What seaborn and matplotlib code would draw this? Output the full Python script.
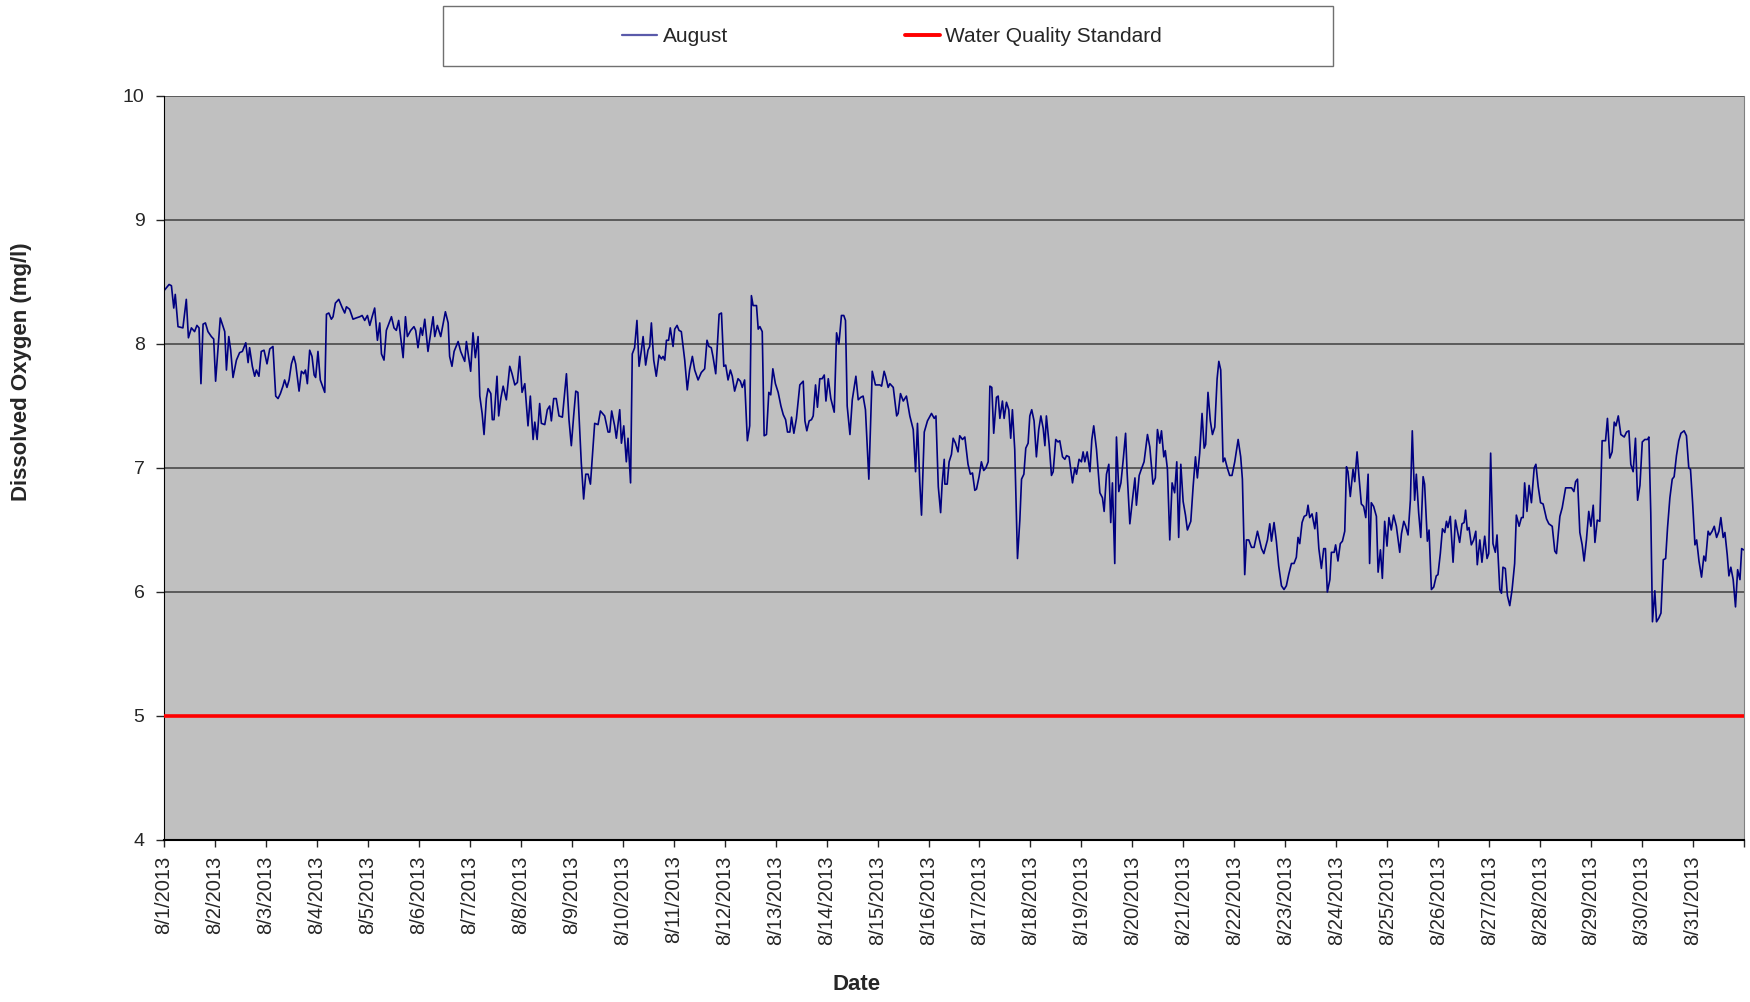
import matplotlib
matplotlib.use("Agg")
import matplotlib.pyplot as plt
from matplotlib.patches import Rectangle
from matplotlib.lines import Line2D
import seaborn as sns
import pandas as pd

# Dissolved oxygen readings, August 2013 (hours after 8/1/2013 00:00, mg/l)
hours = [
    0, 2.4, 3.5, 4.6, 5.3, 6.6, 8.9, 10.5, 11.5, 12.9, 14.4, 15.5, 16.5, 17.4, 18.4, 19.5,
    20.7, 22.3, 23.4, 24.3, 26.5, 28.6, 29.4, 30.5, 31.4, 32.5, 34.1, 35.6, 36.9, 38.5, 39.6,
    40.3, 41.6, 42.7, 43.5, 44.7, 45.8, 47.1, 48.5, 49.8, 51.3, 52.6, 53.7, 54.8, 56.0, 56.8,
    57.9, 58.9, 60.0, 61.1, 62.0, 63.6, 64.7, 65.8, 66.6, 67.5, 68.6, 69.7, 70.7, 71.4, 72.5,
    73.6, 75.7, 76.5, 77.6, 78.8, 79.6, 80.7, 82.3, 84.0, 85.1, 85.9, 87.4, 89.0, 90.5,
    92.2, 93.3, 94.5, 95.8, 96.9, 98.0, 99.2, 100.5, 101.6, 102.4, 103.6, 104.7, 107.1, 108.3,
    109.4, 110.5, 112.6, 113.7, 114.6, 116.2, 117.7, 118.5, 119.6, 120.9, 121.7, 122.8, 124.3,
    126.7, 127.5, 128.7, 130.3, 132.5, 133.8, 134.5, 135.6, 136.6, 138.5, 139.7, 141.6, 142.4,
    144.4, 145.5, 146.6, 147.9, 148.7, 149.8, 150.7, 151.8, 152.6, 153.9, 154.6, 155.4, 156.8,
    157.6, 158.6, 159.7, 161.2, 162.8, 163.9, 165.2, 166.4, 167.5, 168.6, 169.9, 171.4, 172.5,
    173.8, 174.6, 175.7, 176.9, 177.7, 179.3, 180.5, 181.6, 182.4, 183.5,
    184.7, 186.0, 187.6, 189.5, 190.7, 191.8, 192.9, 193.9, 194.9, 196.5, 197.6, 198.6, 199.7,
    200.8, 202.8, 204.4, 205.5, 207.5, 209.1, 209.9, 210.8, 212.2, 213.0, 214.6, 215.4, 216.5,
    217.7, 218.5, 219.7, 220.5, 221.6, 222.7, 223.7, 224.8, 225.6, 226.8, 227.9, 228.7, 229.5,
    230.6, 231.8, 233.1, 234.2, 235.0, 235.8, 236.6, 237.6, 238.4, 239.7, 240.5, 241.6, 242.5,
    243.6, 245.2, 246.4, 247.5, 248.8, 249.9, 251.5, 253.0, 254.6, 255.7, 256.6, 257.7, 258.5,
    259.8, 261.4, 262.5, 263.6, 264.5, 265.6, 266.7, 267.6, 268.7, 270.3, 271.4, 272.3, 273.4,
    274.7, 275.8,
    276.6, 277.4, 279.0, 279.8, 280.6, 281.7, 282.6, 283.7, 284.8, 285.7, 286.7, 287.9, 289.2,
    290.5, 291.6, 292.7, 293.6, 294.7, 295.5, 296.6, 297.8, 299.4, 301.0, 301.8, 302.7, 303.8,
    304.9, 305.7, 306.8, 307.7, 308.8, 309.9, 310.9, 311.7, 312.8, 314.0, 315.6, 316.7, 317.8,
    319.0, 320.1, 320.9, 321.7, 323.0, 324.1, 325.8, 326.9, 328.1, 329.2, 330.3, 331.9, 333.5,
    335.0, 337.1, 337.9, 339.1, 339.8, 341.0, 341.8, 343.4, 345.0, 345.7, 346.8, 348.1, 349.6,
    351.2, 352.8, 353.9, 354.8, 355.9, 356.7, 358.0, 359.5, 361.4, 362.7, 363.5, 364.6, 365.7,
    366.4, 367.4,
    367.7, 368.8, 369.7, 370.8, 371.6, 372.7, 373.9, 374.7, 376.0, 377.1, 378.6, 379.7, 380.7,
    381.8, 382.6, 383.8, 384.9, 386.0, 387.0, 388.1, 388.9, 389.8, 390.7, 392.0, 392.8, 393.6,
    394.8, 395.6, 396.7, 397.8, 398.7, 399.5, 400.6, 401.9, 403.0, 403.8, 404.9, 405.8, 406.9,
    407.7, 408.6, 409.7, 410.8, 411.9, 412.9, 414.0, 414.8, 415.5, 416.8, 417.9, 418.7, 419.9,
    421.0, 421.8, 423.1, 424.2, 425.0, 426.2, 427.8, 428.9, 429.7, 430.9, 432.0, 432.8, 433.6,
    434.7, 436.0, 436.9, 437.8, 439.1, 440.7, 441.9, 442.7, 443.8, 444.9, 445.8, 446.6, 447.7,
    448.5, 449.6, 450.6, 451.7, 452.8, 453.5, 454.8, 456.0, 457.2, 457.9, 459.2,
    460.2, 461.5, 463.1, 464.2, 465.7, 466.8, 467.8, 468.9, 469.7, 470.8, 471.5, 472.5, 473.6,
    474.7, 475.9, 476.9, 477.8, 478.8, 479.9, 481.0, 481.9, 483.5, 484.6, 485.7, 486.6, 487.7,
    488.8, 489.8, 490.5, 491.6, 492.7, 493.7, 494.8, 495.9, 496.7, 497.6, 498.7, 499.5, 500.7,
    501.8, 502.9, 504.2, 505.8, 507.0, 507.8, 508.9, 509.7, 510.8, 512.1, 513.3, 514.9, 516.0,
    516.8, 517.9, 519.6, 520.7, 521.5, 522.7, 523.8, 524.9, 526.2, 527.4, 528.5, 529.6, 530.9,
    532.1, 533.2, 534.0, 534.8, 535.9, 536.9, 538.0, 538.7, 539.5, 540.6, 541.9, 542.7, 543.8,
    545.0, 546.1, 546.9, 547.8, 549.0, 549.7, 551.0,
    551.7, 552.8, 553.9, 554.9, 556.0, 556.8, 557.5, 558.6, 559.9, 560.7, 561.8, 562.7, 563.8,
    564.9, 565.9, 567.0, 567.7, 568.5, 569.6, 570.9, 571.7, 572.8, 573.7, 574.8, 575.9, 576.8,
    577.9, 579.0, 580.3, 581.9, 582.7, 583.8, 584.7, 585.8, 586.9, 587.8, 588.9, 589.7, 590.8,
    591.8, 592.9, 593.6, 594.9, 595.7, 596.8, 597.9, 599.1, 599.9, 601.0, 602.0, 603.1, 603.9,
    604.6, 605.7, 607.0, 608.1, 609.0, 610.1, 611.2, 612.2, 612.9, 613.7, 614.5, 615.6, 616.7,
    617.7, 618.4, 619.6, 620.6, 621.9, 623.0, 623.8, 624.7, 625.8, 626.9, 627.7, 629.0, 629.8,
    630.5, 631.6, 632.6, 633.7, 634.8, 636.0, 636.8, 638.1, 639.2, 640.0, 640.7, 641.8, 642.8,
    643.9, 645.2, 646.0, 647.1, 648.2, 649.4, 651.0, 652.1, 653.7, 654.9, 655.7, 657.3, 658.4,
    660.0, 661.2, 662.8, 663.9, 664.7, 665.6, 666.7, 667.8, 668.7, 669.8, 670.9, 671.9, 673.0,
    673.8, 674.9, 676.1, 677.2, 678.8, 679.7, 680.8, 681.9, 682.9, 683.7, 684.8, 686.0, 687.6,
    688.7, 689.8, 690.7, 691.8, 692.9, 693.9, 695.0, 696.1, 697.3, 698.6, 699.2, 700.1, 700.9,
    702.0, 702.8, 703.9, 704.9, 706.0, 707.1, 708.0, 709.1, 710.2, 711.1, 712.2, 713.3, 714.3,
    715.8, 716.9, 718.0, 718.8, 719.8, 720.9, 721.7, 722.8, 724.0, 725.1, 725.9, 727.1, 727.9,
    729.0, 730.0, 731.1, 732.2, 733.1, 734.2, 735.0, 736.1, 736.9, 737.8, 738.9, 740.0, 741.0,
    742.1, 742.9, 743.8,
]

dissolved_oxygen = [
    8.43, 8.48, 8.47, 8.29, 8.40, 8.14, 8.13, 8.36, 8.05, 8.13, 8.10, 8.15, 8.13, 7.68, 8.16, 8.17,
    8.10, 8.06, 8.04, 7.70, 8.21, 8.10, 7.79, 8.06, 7.95, 7.73, 7.87, 7.93, 7.94, 8.01, 7.85,
    7.97, 7.82, 7.74, 7.79, 7.74, 7.94, 7.95, 7.84, 7.96, 7.98, 7.58, 7.56, 7.60, 7.66, 7.71,
    7.65, 7.71, 7.84, 7.90, 7.84, 7.62, 7.78, 7.76, 7.79, 7.68, 7.95, 7.90, 7.75, 7.73, 7.94,
    7.71, 7.61, 8.24, 8.25, 8.20, 8.22, 8.33, 8.36, 8.29, 8.25, 8.30, 8.28, 8.20, 8.21,
    8.22, 8.23, 8.19, 8.23, 8.15, 8.22, 8.29, 8.03, 8.17, 7.92, 7.87, 8.11, 8.22, 8.13,
    8.11, 8.19, 7.89, 8.22, 8.06, 8.11, 8.14, 8.11, 7.97, 8.13, 8.07, 8.20, 7.94,
    8.22, 8.06, 8.15, 8.06, 8.26, 8.17, 7.90, 7.82, 7.94, 8.02, 7.94, 7.86, 8.02,
    7.78, 8.09, 7.89, 8.06, 7.58, 7.44, 7.27, 7.56, 7.64, 7.60, 7.39, 7.39, 7.74,
    7.42, 7.56, 7.66, 7.55, 7.82, 7.76, 7.67, 7.69, 7.90, 7.61, 7.68, 7.34, 7.58,
    7.23, 7.37, 7.23, 7.52, 7.36, 7.35, 7.47, 7.50, 7.38, 7.56,
    7.56, 7.42, 7.41, 7.76, 7.39, 7.18, 7.42, 7.62, 7.61, 7.04, 6.75, 6.95, 6.95,
    6.87, 7.36, 7.35, 7.46, 7.42, 7.29, 7.29, 7.46, 7.34, 7.24, 7.47, 7.20, 7.34,
    7.05, 7.24, 6.88, 7.92, 7.97, 8.19, 7.82, 7.95, 8.06, 7.83, 7.95, 7.98, 8.17,
    7.87, 7.74, 7.91, 7.88, 7.90, 7.87, 8.03, 8.03, 8.13, 7.98, 8.12, 8.15, 8.11,
    8.10, 7.87, 7.63, 7.79, 7.90, 7.79, 7.71, 7.77, 7.80, 8.03, 7.98, 7.97, 7.90,
    7.76, 8.24, 8.25, 7.82, 7.83, 7.71, 7.79, 7.74, 7.62, 7.72, 7.70, 7.65, 7.71,
    7.22, 7.34,
    8.39, 8.31, 8.31, 8.12, 8.14, 8.10, 7.26, 7.27, 7.61, 7.59, 7.80, 7.68, 7.61,
    7.50, 7.43, 7.39, 7.29, 7.29, 7.41, 7.28, 7.40, 7.67, 7.70, 7.38, 7.30, 7.38,
    7.39, 7.42, 7.67, 7.49, 7.72, 7.72, 7.75, 7.54, 7.72, 7.56, 7.45, 8.09, 8.00,
    8.23, 8.23, 8.19, 7.50, 7.27, 7.55, 7.74, 7.55, 7.57, 7.58, 7.47, 6.91, 7.78,
    7.67, 7.67, 7.66, 7.78, 7.74, 7.65, 7.68, 7.65, 7.42, 7.44, 7.60, 7.54, 7.58,
    7.42, 7.31, 6.97, 7.36, 6.88, 6.62, 7.29, 7.38, 7.44, 7.40, 7.42, 6.85, 6.64,
    6.87, 7.07,
    6.87, 6.87, 7.05, 7.11, 7.24, 7.20, 7.13, 7.26, 7.23, 7.25, 7.03, 6.95, 6.96,
    6.82, 6.83, 6.93, 7.05, 6.98, 7.00, 7.05, 7.66, 7.65, 7.28, 7.57, 7.58, 7.40,
    7.54, 7.40, 7.53, 7.47, 7.24, 7.47, 7.15, 6.27, 6.58, 6.91, 6.95, 7.16, 7.20,
    7.42, 7.47, 7.38, 7.09, 7.31, 7.42, 7.32, 7.18, 7.42, 7.19, 6.94, 6.97, 7.23,
    7.21, 7.22, 7.09, 7.07, 7.10, 7.09, 6.88, 7.00, 6.95, 7.07, 7.05, 7.13, 7.05,
    7.13, 6.97, 7.23, 7.34, 7.15, 6.80, 6.76, 6.65, 6.95, 7.03, 6.56, 6.88, 6.23,
    7.25, 6.81, 6.88, 7.07, 7.28, 6.97, 6.55, 6.74, 6.92, 6.70, 6.94,
    6.99, 7.05, 7.27, 7.17, 6.87, 6.92, 7.31, 7.20, 7.30, 7.09, 7.14, 6.99, 6.42,
    6.88, 6.80, 7.05, 6.44, 7.03, 6.73, 6.62, 6.50, 6.57, 6.85, 7.09, 6.92, 7.12,
    7.44, 7.16, 7.19, 7.61, 7.38, 7.27, 7.33, 7.72, 7.86, 7.79, 7.05, 7.08, 7.00,
    6.94, 6.94, 7.05, 7.23, 7.09, 6.91, 6.14, 6.42, 6.42, 6.36, 6.36, 6.49, 6.41,
    6.35, 6.31, 6.42, 6.55, 6.41, 6.56, 6.41, 6.21, 6.05, 6.02, 6.05, 6.14, 6.23,
    6.23, 6.28, 6.44, 6.39, 6.56, 6.61, 6.62, 6.70, 6.60, 6.63, 6.51, 6.64, 6.35,
    6.19, 6.35, 6.35, 6.00, 6.10, 6.32, 6.32,
    6.38, 6.25, 6.39, 6.41, 6.49, 7.01, 6.97, 6.77, 6.99, 6.89, 7.13, 6.93, 6.71,
    6.69, 6.60, 6.95, 6.23, 6.72, 6.69, 6.61, 6.16, 6.34, 6.11, 6.57, 6.37, 6.60,
    6.50, 6.62, 6.53, 6.32, 6.47, 6.57, 6.53, 6.46, 6.74, 7.30, 6.74, 6.95, 6.64,
    6.44, 6.93, 6.87, 6.41, 6.50, 6.02, 6.04, 6.13, 6.14, 6.31, 6.51, 6.48, 6.57,
    6.52, 6.61, 6.24, 6.58, 6.50, 6.40, 6.55, 6.56, 6.66, 6.50, 6.52, 6.38, 6.42,
    6.49, 6.22, 6.42, 6.24, 6.45, 6.27, 6.31, 7.12, 6.39, 6.32, 6.46, 6.02, 5.99,
    6.20, 6.19, 5.97, 5.89, 6.02, 6.23, 6.62, 6.53, 6.60, 6.60, 6.88, 6.65, 6.86,
    6.72, 7.00, 7.03, 6.85, 6.72, 6.71, 6.59, 6.55, 6.53, 6.33, 6.31, 6.61, 6.68,
    6.84, 6.84, 6.84, 6.81, 6.89, 6.91, 6.48, 6.38, 6.25, 6.42, 6.65, 6.53, 6.70,
    6.40, 6.58, 6.57, 7.22, 7.22, 7.40, 7.08, 7.13, 7.37, 7.34, 7.42, 7.27, 7.25,
    7.29, 7.30, 7.03, 6.97, 7.24, 6.74, 6.86, 7.21, 7.23, 7.23, 7.25, 6.64, 5.76,
    6.01, 5.76, 5.79, 5.83, 6.26, 6.27, 6.52, 6.76, 6.91, 6.93, 7.10, 7.22, 7.28,
    7.30, 7.26, 7.00, 6.99, 6.72, 6.38, 6.42, 6.25, 6.12, 6.29, 6.25, 6.49, 6.46,
    6.49, 6.53, 6.44, 6.49, 6.60, 6.44, 6.48, 6.30, 6.13, 6.20, 6.10, 5.88, 6.18,
    6.10, 6.35, 6.34,
]

standard_value = 5
y_ticks = [4, 5, 6, 7, 8, 9, 10]
start_date = pd.Timestamp("2013-08-01")
tick_dates = pd.date_range("2013-08-01", "2013-09-01", freq="D")
tick_labels = [f"{d.month}/{d.day}/{d.year}" for d in tick_dates[:-1]] + [""]

df = pd.DataFrame({
    "time": start_date + pd.to_timedelta(hours, unit="h"),
    "do": dissolved_oxygen,
})

sns.set_style("white")
plt.rcParams["font.family"] = ["Liberation Sans", "DejaVu Sans"]

fig = plt.figure(figsize=(17.5, 10.02), dpi=100)
ax = fig.add_axes([164 / 1750, 1 - 840 / 1002, 1580 / 1750, 744 / 1002])
ax.set_facecolor("#C0C0C0")

sns.lineplot(data=df, x="time", y="do", color="#000080", linewidth=1.2,
             ax=ax, sort=False, legend=False)
ax.axhline(standard_value, color="#FF0000", linewidth=2.6, zorder=3)

ax.set_ylim(4, 10)
ax.set_yticks(y_ticks)
ax.set_xlim(tick_dates[0], tick_dates[-1])
ax.set_xticks(tick_dates)
ax.set_xticklabels(tick_labels, rotation=90, fontsize=14.5)
ax.tick_params(axis="y", labelsize=14, length=6, width=1, direction="out",
               left=True, pad=8)
ax.tick_params(axis="x", length=5, width=1, direction="out", bottom=True, pad=6)

# horizontal grid only
ax.yaxis.grid(True, color="#404040", linewidth=1.1)
ax.xaxis.grid(False)
ax.set_axisbelow(True)

ax.spines["top"].set_visible(False)
ax.spines["right"].set_color("#808080")
ax.spines["left"].set_color("black")
ax.spines["bottom"].set_color("black")
ax.spines["bottom"].set_linewidth(1.5)

ax.set_xlabel("")
ax.set_ylabel("")
fig.text(857 / 1750, 1 - 985 / 1002, "Date", fontsize=16, fontweight="bold",
         ha="center", va="center")
fig.text(22 / 1750, 1 - 372 / 1002, "Dissolved Oxygen (mg/l)", fontsize=16,
         fontweight="bold", rotation=90, ha="center", va="center")

# legend in a box above the plot
handles = [Line2D([], [], color="#5a5aaa", linewidth=1.6),
           Line2D([], [], color="#FF0000", linewidth=2.8)]
labels = ["August", "Water Quality Standard"]
fig.legend(handles, labels, loc="center", bbox_to_anchor=(892 / 1750, 1 - 37 / 1002),
           ncol=2, frameon=False, fontsize=15, handlelength=1.7,
           handletextpad=0.25, columnspacing=8.5)
fig.patches.append(Rectangle((443 / 1750, 1 - 66 / 1002), 890 / 1750, 60 / 1002,
                             transform=fig.transFigure, facecolor="white",
                             edgecolor="#707070", linewidth=1, zorder=-1))

fig.savefig("out.png", dpi=100)
